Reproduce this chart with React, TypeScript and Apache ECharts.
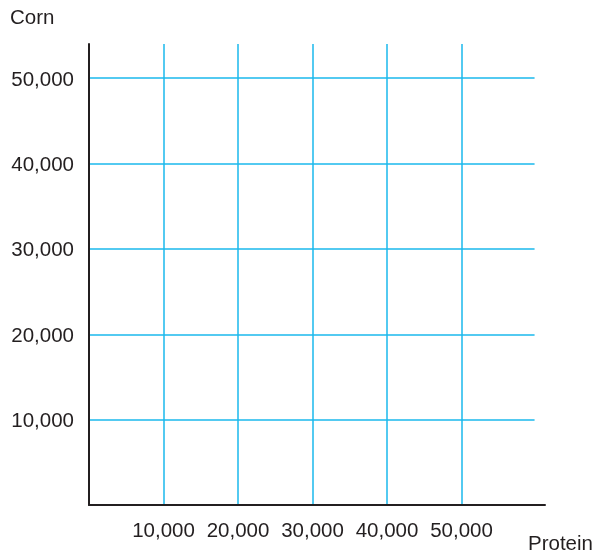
import React, { useEffect, useRef } from "react";
import * as echarts from "echarts";

const xTicks = [10000, 20000, 30000, 40000, 50000];
const yTicks = [10000, 20000, 30000, 40000, 50000];
const xName = "Protein";
const yName = "Corn";
const xMax = 61200;
const yMax = 54000;
const gridLineXEnd = 59800;

const fmt = (v: number) => v.toLocaleString("en-US");

export default function App() {
  const ref = useRef<HTMLDivElement>(null);
  useEffect(() => {
    if (!ref.current) return;
    const chart = echarts.init(ref.current, null, { renderer: "svg" });
    const gridColor = "#1ab9ec";
    const textColor = "#231f20";
    const font = "Liberation Sans, Arial, Helvetica, sans-serif";
    const lines: any[] = [];
    xTicks.forEach((v) => lines.push([{ coord: [v, 0] }, { coord: [v, yMax] }]));
    yTicks.forEach((v) => lines.push([{ coord: [0, v] }, { coord: [gridLineXEnd, v] }]));
    chart.setOption({
      animation: false,
      grid: { left: 89, top: 44, width: 456, height: 461, containLabel: false },
      xAxis: {
        type: "value",
        min: 0,
        max: xMax,
        interval: 10000,
        splitLine: { show: false },
        axisTick: { show: false },
        axisLine: { show: true, onZero: false, lineStyle: { color: textColor, width: 2 } },
        axisLabel: {
          show: true,
          margin: 14,
          color: textColor,
          fontSize: 20.5,
          fontFamily: font,
          formatter: (v: number) => (xTicks.includes(v) ? fmt(v) : ""),
        },
      },
      yAxis: {
        type: "value",
        min: 0,
        max: yMax,
        interval: 10000,
        splitLine: { show: false },
        axisTick: { show: false },
        axisLine: { show: true, onZero: false, lineStyle: { color: textColor, width: 2 } },
        axisLabel: {
          show: true,
          margin: 15,
          color: textColor,
          fontSize: 20.5,
          fontFamily: font,
          formatter: (v: number) => (yTicks.includes(v) ? fmt(v) : ""),
        },
      },
      graphic: [
        {
          type: "text",
          left: 10,
          top: 6,
          style: { text: yName, fill: textColor, fontSize: 20.5, fontFamily: font },
        },
        {
          type: "text",
          left: 528,
          top: 532,
          style: { text: xName, fill: textColor, fontSize: 20.5, fontFamily: font },
        },
      ],
      series: [
        {
          type: "scatter",
          data: [],
          silent: true,
          markLine: {
            silent: true,
            symbol: "none",
            label: { show: false },
            lineStyle: { color: gridColor, width: 1.5, type: "solid" },
            z: 0,
            data: lines,
          },
        },
      ],
    });
    return () => chart.dispose();
  }, []);
  return (
    <div
      ref={ref}
      style={{ position: "fixed", left: 0, top: 0, width: 595, height: 554 }}
    />
  );
}
